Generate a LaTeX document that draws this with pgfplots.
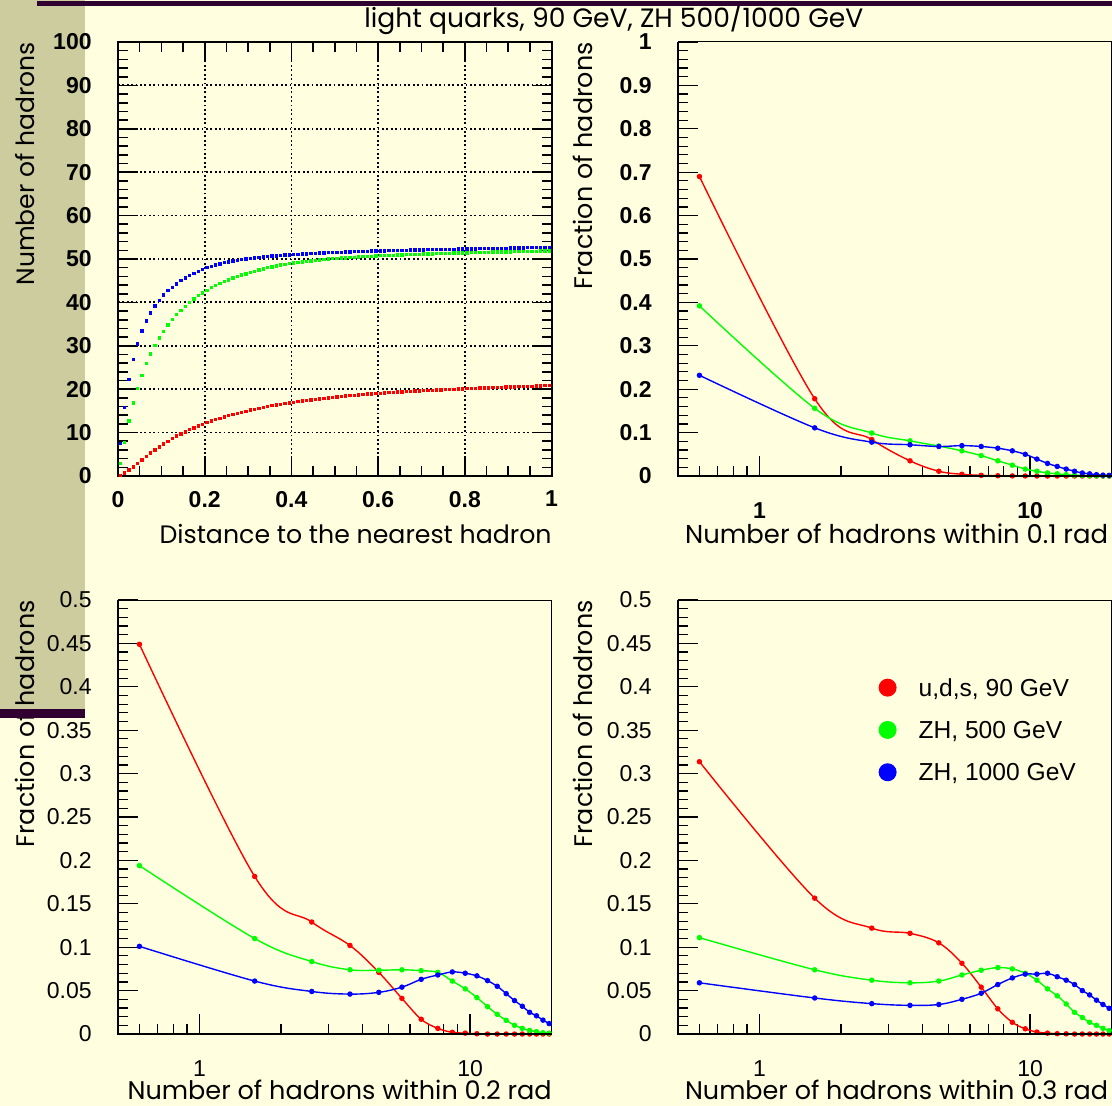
\documentclass[border=0pt]{standalone}
\usepackage{pgfplots}
\pgfplotsset{compat=1.18}
\usepackage{pgfplotstable}
\usepackage{fontspec}
\setmainfont{Liberation Sans}
\newfontfamily\labelfont{Poppins}
\definecolor{bgy}{RGB}{255,255,224}
\definecolor{tanc}{RGB}{204,204,158}
\definecolor{purp}{RGB}{48,0,48}

\pgfplotstableread{
x r g b
0.005 0.2 2.9 7.5
0.015 0.7 7.8 15.8
0.025 1.4 12.7 22.2
0.035 2.1 16.8 26.9
0.045 2.9 20.2 30.4
0.055 3.7 23.2 33.4
0.065 4.5 25.9 35.7
0.075 5.3 28.1 37.6
0.085 6.0 30.1 39.2
0.095 6.7 31.8 40.5
0.105 7.4 33.3 41.7
0.115 8.0 34.8 42.7
0.125 8.6 36.1 43.5
0.135 9.2 37.2 44.3
0.145 9.7 38.2 45.0
0.155 10.2 39.1 45.6
0.165 10.7 40.0 46.2
0.175 11.1 40.8 46.7
0.185 11.5 41.6 47.2
0.195 11.9 42.2 47.6
0.205 12.3 42.8 48.0
0.215 12.65 43.4 48.35
0.225 13.0 43.9 48.65
0.235 13.3 44.4 48.9
0.245 13.6 44.8 49.15
0.255 13.9 45.2 49.35
0.265 14.2 45.6 49.55
0.275 14.45 46.0 49.72
0.285 14.7 46.3 49.88
0.295 14.95 46.6 50.02
0.305 15.2 46.9 50.15
0.315 15.4 47.2 50.27
0.325 15.6 47.5 50.38
0.335 15.8 47.7 50.48
0.345 16.0 48.0 50.58
0.355 16.2 48.2 50.67
0.365 16.4 48.4 50.75
0.375 16.55 48.6 50.83
0.385 16.7 48.8 50.9
0.395 16.85 48.95 50.97
0.405 17.0 49.1 51.04
0.415 17.15 49.2 51.1
0.425 17.3 49.35 51.16
0.435 17.43 49.5 51.22
0.445 17.56 49.6 51.27
0.455 17.68 49.7 51.32
0.465 17.8 49.8 51.37
0.475 17.92 49.9 51.42
0.485 18.03 50.0 51.46
0.495 18.14 50.07 51.5
0.505 18.25 50.14 51.54
0.515 18.35 50.21 51.58
0.525 18.45 50.28 51.62
0.535 18.55 50.35 51.66
0.545 18.64 50.42 51.7
0.555 18.72 50.48 51.73
0.565 18.8 50.54 51.76
0.575 18.88 50.6 51.79
0.585 18.95 50.66 51.82
0.595 19.02 50.71 51.85
0.605 19.09 50.76 51.88
0.615 19.16 50.8 51.91
0.625 19.23 50.84 51.94
0.635 19.29 50.88 51.96
0.645 19.35 50.92 51.99
0.655 19.42 50.96 52.01
0.665 19.47 51.0 52.04
0.675 19.53 51.04 52.06
0.685 19.58 51.08 52.08
0.695 19.64 51.12 52.11
0.705 19.69 51.15 52.13
0.715 19.74 51.18 52.15
0.725 19.78 51.21 52.17
0.735 19.83 51.24 52.19
0.745 19.87 51.27 52.21
0.755 19.92 51.3 52.23
0.765 19.96 51.33 52.25
0.775 20.01 51.36 52.27
0.785 20.05 51.39 52.29
0.795 20.1 51.42 52.31
0.805 20.13 51.45 52.33
0.815 20.18 51.48 52.35
0.825 20.21 51.5 52.37
0.835 20.26 51.52 52.39
0.845 20.29 51.55 52.41
0.855 20.34 51.57 52.43
0.865 20.37 51.6 52.45
0.875 20.41 51.62 52.47
0.885 20.45 51.64 52.49
0.895 20.49 51.66 52.51
0.905 20.52 51.68 52.53
0.915 20.56 51.7 52.55
0.925 20.6 51.72 52.57
0.935 20.64 51.74 52.59
0.945 20.67 51.76 52.61
0.955 20.71 51.78 52.63
0.965 20.74 51.8 52.65
0.975 20.78 51.82 52.67
0.985 20.81 51.84 52.69
0.995 20.85 51.86 52.71
}\tldata

\pgfplotstableread{
x r g b
0.6 0.690 0.392 0.232
1.6 0.178 0.156 0.111
2.6 0.084 0.099 0.078
3.6 0.035 0.081 0.072
4.6 0.011 0.069 0.068
5.6 0.004 0.058 0.070
6.6 0.0015 0.047 0.068
7.6 0.0006 0.035 0.064
8.6 0.0003 0.025 0.058
9.6 0.0001 0.016 0.050
10.6 0 0.011 0.039
11.6 0 0.007 0.029
12.6 0 0.005 0.022
13.6 0 0.003 0.016
14.6 0 0.0018 0.011
15.6 0 0.0011 0.007
16.6 0 0.0007 0.005
17.6 0 0.0004 0.003
18.6 0 0.0002 0.002
19.6 0 0.0001 0.0015
}\trdata

\pgfplotstableread{
x r g b
0.6 0.449 0.194 0.101
1.6 0.1815 0.110 0.061
2.6 0.129 0.0835 0.049
3.6 0.102 0.074 0.046
4.6 0.071 0.0735 0.048
5.6 0.041 0.074 0.054
6.6 0.017 0.073 0.063
7.6 0.0065 0.071 0.068
8.6 0.002 0.061 0.0715
9.6 0.001 0.052 0.070
10.6 0.0003 0.042 0.067
11.6 0 0.0315 0.0615
12.6 0 0.0227 0.055
13.6 0 0.0158 0.0465
14.6 0 0.010 0.0385
15.6 0 0.0065 0.032
16.6 0 0.0042 0.025
17.6 0 0.0027 0.021
18.6 0 0.0015 0.016
19.6 0 0.001 0.012
}\bldata

\pgfplotstableread{
x r g b
0.6 0.3137 0.111 0.059
1.6 0.1565 0.074 0.0415
2.6 0.122 0.062 0.035
3.6 0.116 0.059 0.033
4.6 0.105 0.061 0.034
5.6 0.0815 0.068 0.040
6.6 0.054 0.0735 0.047
7.6 0.029 0.0765 0.057
8.6 0.0135 0.075 0.0646
9.6 0.006 0.070 0.069
10.6 0.0023 0.062 0.069
11.6 0.001 0.052 0.070
12.6 0.0004 0.044 0.066
13.6 0.0002 0.0346 0.062
14.6 0 0.025 0.057
15.6 0 0.019 0.050
16.6 0 0.0135 0.045
17.6 0 0.010 0.039
18.6 0 0.0065 0.034
19.6 0 0.004 0.0296
}\brdata

\pgfplotsset{
  rootax/.style={
    scale only axis, width=216.75pt, height=217pt, anchor=south west,
    clip=false, scaled ticks=false,
    /pgf/number format/assume math mode=true,
    major tick length=10pt, minor tick length=5pt,
    minor y tick num=4,
    yticklabel style={anchor=east, inner sep=0pt, xshift=-13pt},
    xticklabel style={anchor=north, inner sep=0pt},
  },
  logax/.style={
    rootax, xmin=0.5, xmax=20,
    xtick={1,10}, xticklabels={1,10},
    minor xtick={0.6,0.7,0.8,0.9,2,3,4,5,6,7,8,9,20},
    tick pos=left,
    tick style={black, line width=0.6pt},
    axis line style={line width=0.5pt},
    xticklabel style={yshift=-13pt},
    after end axis/.code={\draw[line width=1pt] (rel axis cs:0,1) -- (rel axis cs:0,0) -- (rel axis cs:1,0);},
  },
  crv/.style={smooth, tension=0.6, line width=0.7pt, mark=*, mark size=1pt},
}

\begin{document}
\begin{tikzpicture}
\fill[bgy] (0,0) rectangle (556pt,-553pt);
\fill[tanc] (0,0) rectangle (42.5pt,-354.5pt);

% top left
\begin{axis}[rootax, at={(59pt,-238pt)},
  xmin=0, xmax=1, ymin=0, ymax=100,
  xtick={0,0.2,0.4,0.6,0.8,1}, xticklabels={0,0.2,0.4,0.6,0.8,1},
  ytick={0,10,20,30,40,50,60,70,80,90,100},
  yticklabels={0,10,20,30,40,50,60,70,80,90,100},
  minor x tick num=3,
  ticklabel style={font=\fontsize{11.5}{13}\selectfont\bfseries},
  xticklabel style={yshift=-7.3pt},
  tick style={black, line width=0.8pt},
  axis line style={line width=1pt},
  grid=major, major grid style={black, line width=0.9pt, dash pattern=on 0.9pt off 1.3pt},
]
\addplot[only marks, mark=square*, mark size=0.6pt, red] table[x=x,y=r]{\tldata};
\addplot[only marks, mark=square*, mark size=0.6pt, green] table[x=x,y=g]{\tldata};
\addplot[only marks, mark=square*, mark size=0.6pt, blue] table[x=x,y=b]{\tldata};
\end{axis}

% top right
\begin{semilogxaxis}[logax, at={(339pt,-238pt)},
  ymin=0, ymax=1,
  ytick={0,0.1,0.2,0.3,0.4,0.5,0.6,0.7,0.8,0.9,1},
  yticklabels={0,0.1,0.2,0.3,0.4,0.5,0.6,0.7,0.8,0.9,1},
  ticklabel style={font=\fontsize{11.5}{13}\selectfont\bfseries},
]
\addplot[crv, red] table[x=x,y=r]{\trdata};
\addplot[crv, green] table[x=x,y=g]{\trdata};
\addplot[crv, blue] table[x=x,y=b]{\trdata};
\end{semilogxaxis}

% bottom left
\begin{semilogxaxis}[logax, at={(59pt,-517pt)},
  ymin=0, ymax=0.5,
  ytick={0,0.05,0.1,0.15,0.2,0.25,0.3,0.35,0.4,0.45,0.5},
  yticklabels={0,0.05,0.1,0.15,0.2,0.25,0.3,0.35,0.4,0.45,0.5},
  ticklabel style={font=\fontsize{11.5}{13}\selectfont},
]
\addplot[crv, red] table[x=x,y=r]{\bldata};
\addplot[crv, green] table[x=x,y=g]{\bldata};
\addplot[crv, blue] table[x=x,y=b]{\bldata};
\end{semilogxaxis}

% bottom right
\begin{semilogxaxis}[logax, at={(339pt,-517pt)},
  ymin=0, ymax=0.5,
  ytick={0,0.05,0.1,0.15,0.2,0.25,0.3,0.35,0.4,0.45,0.5},
  yticklabels={0,0.05,0.1,0.15,0.2,0.25,0.3,0.35,0.4,0.45,0.5},
  ticklabel style={font=\fontsize{11.5}{13}\selectfont},
  legend style={draw=none, fill=none, at={(axis description cs:0.448,0.829)}, anchor=north west,
    font=\fontsize{12.3}{14}\selectfont, row sep=11.5pt, column sep=0pt,
    nodes={inner sep=0pt, text height=8.3pt, text depth=0.8pt}},
  legend cell align=left,
  legend image code/.code={\fill[draw=none] (4.5pt,0.6pt) circle (4.5pt); \path[draw=none] (0pt,0pt) -- (20pt,0pt);},
]
\addplot[crv, red] table[x=x,y=r]{\brdata};
\addlegendentry{u,d,s, 90 GeV}
\addplot[crv, green] table[x=x,y=g]{\brdata};
\addlegendentry{ZH, 500 GeV}
\addplot[crv, blue] table[x=x,y=b]{\brdata};
\addlegendentry{ZH, 1000 GeV}
\end{semilogxaxis}

% labels
\node[anchor=base west, inner sep=0pt] at (182pt,-14pt) {\resizebox{249.5pt}{!}{\labelfont light quarks, 90 GeV, ZH 500/1000 GeV}};
\node[anchor=base east, inner sep=0pt] at (276pt,-271.5pt) {\resizebox{196pt}{!}{\labelfont Distance to the nearest hadron}};
\node[anchor=base east, inner sep=0pt] at (554.25pt,-271.5pt) {\resizebox{211.5pt}{!}{\labelfont Number of hadrons within 0.1 rad}};
\node[anchor=base east, inner sep=0pt] at (276pt,-549.8pt) {\resizebox{212pt}{!}{\labelfont Number of hadrons within 0.2 rad}};
\node[anchor=base east, inner sep=0pt] at (554.25pt,-549.8pt) {\resizebox{211.5pt}{!}{\labelfont Number of hadrons within 0.3 rad}};
\node[anchor=base east, inner sep=0pt, rotate=90] at (17pt,-21pt) {\resizebox{121.5pt}{!}{\labelfont Number of hadrons}};
\node[anchor=base east, inner sep=0pt, rotate=90] at (296.25pt,-21pt) {\resizebox{123.5pt}{!}{\labelfont Fraction of hadrons}};
\node[anchor=base east, inner sep=0pt, rotate=90] at (17pt,-300pt) {\resizebox{123.5pt}{!}{\labelfont Fraction of hadrons}};
\node[anchor=base east, inner sep=0pt, rotate=90] at (296.25pt,-300pt) {\resizebox{123.5pt}{!}{\labelfont Fraction of hadrons}};

% window bars
\fill[purp] (18.5pt,-0.5pt) rectangle (556pt,-3pt);
\fill[purp] (0pt,-354.5pt) rectangle (42.5pt,-359pt);

\pgfresetboundingbox
\useasboundingbox (0,0) rectangle (556pt,-553pt);
\end{tikzpicture}
\end{document}
